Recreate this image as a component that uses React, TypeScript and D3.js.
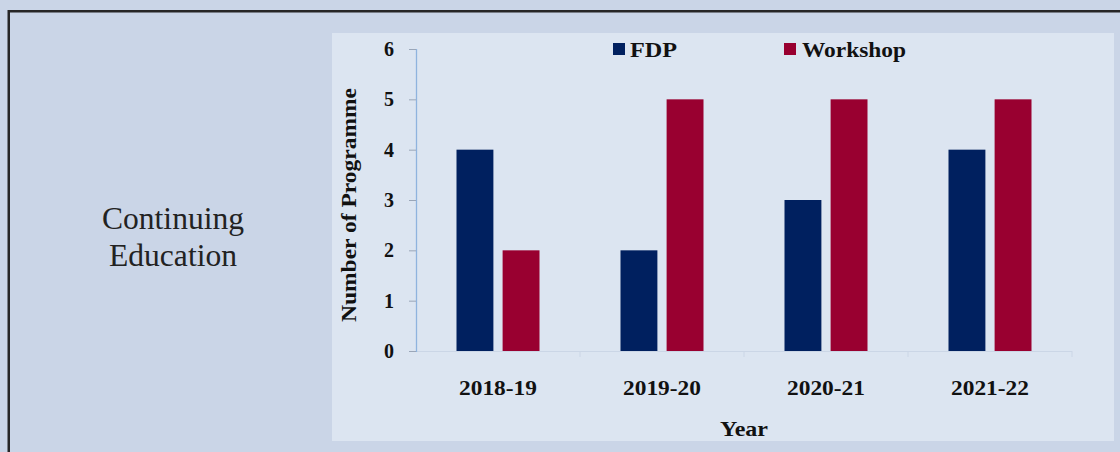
import React from "react";
import * as d3 from "d3";

const categories = ["2018-19", "2019-20", "2020-21", "2021-22"];
const seriesNames = ["FDP", "Workshop"];
const fdpValues = [4, 2, 3, 4];
const workshopValues = [2, 5, 5, 5];
const yTicks = [0, 1, 2, 3, 4, 5, 6];
const colors = ["#00205f", "#990030"];

const W = 1120;
const H = 452;
const serifStyle = { fontFamily: "Liberation Serif" };

export default function App() {
  const x0 = d3.scaleBand<string>().domain(categories).range([416, 1072]).padding(0);
  const x1 = d3
    .scaleBand<string>()
    .domain(seriesNames)
    .range([40.5, x0.bandwidth() - 40.5])
    .paddingInner(0.2)
    .paddingOuter(0);
  const y = d3.scaleLinear().domain([0, 6]).range([351, 49]);
  const seriesValues = [fdpValues, workshopValues];

  return (
    <div style={{ position: "fixed", left: 0, top: 0 }}>
      <svg width={W} height={H} style={{ display: "block", fontFamily: "Liberation Serif" }}>
        <rect x={0} y={0} width={W} height={H} fill="#cad5e7" />
        {/* frame */}
        <line x1={8.75} y1={11.25} x2={W} y2={11.25} stroke="#262626" strokeWidth={2.5} />
        <line x1={8.75} y1={10} x2={8.75} y2={H} stroke="#262626" strokeWidth={2.5} />

        {/* left label */}
        <text x={173} y={229} textAnchor="middle" style={serifStyle} fontSize={31} fill="#222" textLength={142} lengthAdjust="spacingAndGlyphs">
          Continuing
        </text>
        <text x={173} y={266} textAnchor="middle" style={serifStyle} fontSize={31} fill="#222" textLength={128} lengthAdjust="spacingAndGlyphs">
          Education
        </text>

        {/* chart panel */}
        <rect x={332} y={33} width={782} height={408} fill="#dce5f1" />

        {/* x axis baseline (faint) */}
        <line x1={416} y1={y(0) + 0.5} x2={1072} y2={y(0) + 0.5} stroke="#cbd6e6" strokeWidth={1.2} />
        {categories.map((c, i) => (
          <line key={"xt" + i} x1={(x0(c) as number) + x0.bandwidth()} x2={(x0(c) as number) + x0.bandwidth()} y1={y(0)} y2={y(0) + 6} stroke="#cbd6e6" strokeWidth={1} />
        ))}

        {/* bars */}
        {categories.map((c, i) => (
          <g key={c} transform={`translate(${x0(c)},0)`}>
            {seriesNames.map((s, j) => (
              <rect
                key={s}
                x={x1(s)}
                y={y(seriesValues[j][i])}
                width={x1.bandwidth()}
                height={y(0) - y(seriesValues[j][i])}
                fill={colors[j]}
              />
            ))}
          </g>
        ))}

        {/* y axis */}
        <line x1={416.5} y1={y(6)} x2={416.5} y2={y(0) + 1} stroke="#8fb3de" strokeWidth={1.3} />
        {yTicks.map((t) => (
          <g key={"yt" + t}>
            <line x1={409} x2={416} y1={y(t) + 0.5} y2={y(t) + 0.5} stroke="#9aa6b8" strokeWidth={1} />
            <text x={394} y={y(t) + 7} textAnchor="end" style={serifStyle} fontWeight="bold" fontSize={20} fill="#111">
              {t}
            </text>
          </g>
        ))}

        {/* x tick labels */}
        {categories.map((c) => (
          <text
            key={"xl" + c}
            x={(x0(c) as number) + x0.bandwidth() / 2}
            y={395}
            textAnchor="middle"
            style={serifStyle}
            fontWeight="bold"
            fontSize={21}
            fill="#111"
            textLength={78}
            lengthAdjust="spacingAndGlyphs"
          >
            {c}
          </text>
        ))}

        {/* axis titles */}
        <text x={744} y={436} textAnchor="middle" style={serifStyle} fontWeight="bold" fontSize={21} fill="#111" textLength={48} lengthAdjust="spacingAndGlyphs">
          Year
        </text>
        <text
          transform="translate(356,205) rotate(-90)"
          textAnchor="middle"
          style={serifStyle}
          fontWeight="bold"
          fontSize={20}
          fill="#111"
          textLength={234}
          lengthAdjust="spacingAndGlyphs"
        >
          Number of Programme
        </text>

        {/* legend */}
        <rect x={613} y={43} width={12} height={12} fill={colors[0]} />
        <text x={630} y={57} style={serifStyle} fontWeight="bold" fontSize={21} fill="#111" textLength={47} lengthAdjust="spacingAndGlyphs">
          {seriesNames[0]}
        </text>
        <rect x={784} y={43} width={12} height={12} fill={colors[1]} />
        <text x={802} y={57} style={serifStyle} fontWeight="bold" fontSize={21} fill="#111" textLength={104} lengthAdjust="spacingAndGlyphs">
          {seriesNames[1]}
        </text>
      </svg>
    </div>
  );
}
